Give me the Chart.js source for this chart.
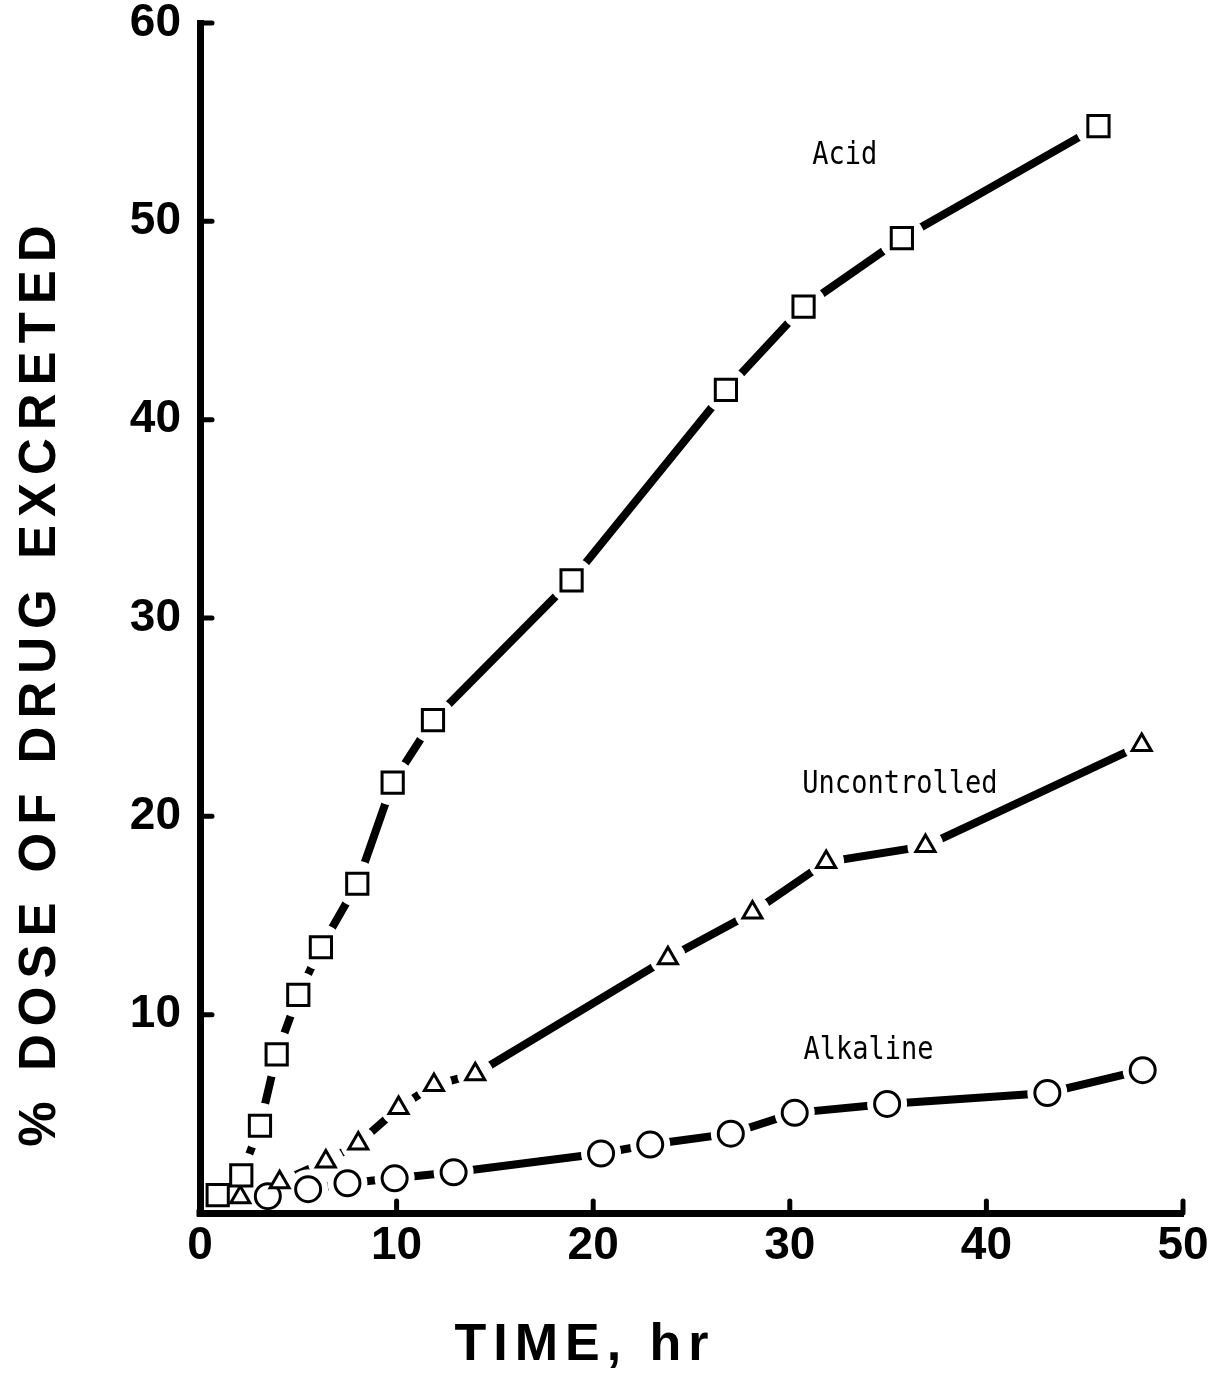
<!DOCTYPE html>
<html>
<head>
<meta charset="utf-8">
<title>% Dose of drug excreted vs time</title>
<script src="https://cdn.jsdelivr.net/npm/chart.js@4.4.1/dist/chart.umd.min.js"></script>
<style>
  html, body { margin: 0; padding: 0; background: #fff; }
  #chart { display: block; }
</style>
</head>
<body>
<canvas id="chart" width="1222" height="1373"></canvas>
<script>
// --- datos (tiempo en hr, % de dosis) ---
const acidTime = [0.9, 2.1, 3.05, 3.9, 5.0, 6.15, 8.0, 9.8, 11.85, 18.9, 26.75, 30.7, 35.7, 45.7];
const acidDose = [0.9, 1.9, 4.4, 8.0, 11.0, 13.4, 16.6, 21.7, 24.85, 31.9, 41.5, 45.7, 49.15, 54.8];

const uncTime = [2.05, 4.05, 6.4, 8.05, 10.1, 11.9, 14.0, 23.8, 28.1, 31.85, 36.9, 47.9];
const uncDose = [0.8, 1.55, 2.6, 3.5, 5.3, 6.45, 7.0, 12.85, 15.15, 17.7, 18.5, 23.6];

const alkTime = [3.45, 5.5, 7.5, 9.9, 12.9, 20.4, 22.9, 27.0, 30.25, 34.95, 43.1, 47.95];
const alkDose = [0.85, 1.2, 1.5, 1.75, 2.05, 3.0, 3.45, 4.0, 5.05, 5.5, 6.05, 7.2];

// etiquetas de las curvas (posición en unidades de datos)
const labelText = ['Acid', 'Uncontrolled', 'Alkaline'];
const labelX = [32.8, 35.6, 34.0];
const labelY = [53.3, 21.6, 8.2];

const xTitle = 'TIME, hr';
const yTitle = '% DOSE OF DRUG EXCRETED';

const xMin = 0, xMax = 50, xStep = 10;
const yMin = 0, yMax = 60, yStep = 10;

const pts = (xs, ys) => xs.map((x, i) => ({ x, y: ys[i] }));

// cada serie: línea gruesa, "halo" blanco (hueco junto al marcador) y marcador hueco
function serie(xs, ys, style, radius, halo) {
    const data = pts(xs, ys);
    return [
        { data, borderColor: '#000', borderWidth: 8, borderCapStyle: 'round', pointRadius: 0, tension: 0, order: 30 },
        { data, showLine: false, pointStyle: 'circle', pointRadius: halo, pointBorderWidth: 0,
          pointBackgroundColor: '#fff', pointBorderColor: '#fff', clip: false, order: 20 },
        { data, showLine: false, pointStyle: style, pointRadius: radius, pointBorderWidth: 3,
          pointBackgroundColor: '#fff', pointBorderColor: '#000', clip: false, order: 10 }
    ];
}

const datasets = [
    ...serie(acidTime, acidDose, 'rect', 15, 23),
    ...serie(uncTime, uncDose, 'triangle', 11, 18),
    ...serie(alkTime, alkDose, 'circle', 12.5, 20)
];

// marcas de eje hacia adentro
const axisMarks = {
    id: 'axisMarks',
    afterDraw(chart) {
        const { ctx, chartArea: a, scales: { x, y } } = chart;
        ctx.save();
        ctx.strokeStyle = '#000';
        ctx.lineWidth = 5;
        ctx.lineCap = 'round';
        y.ticks.forEach(t => {
            if (t.value === yMin) return;
            const py = y.getPixelForValue(t.value);
            ctx.beginPath(); ctx.moveTo(a.left, py); ctx.lineTo(a.left + 12, py); ctx.stroke();
        });
        x.ticks.forEach(t => {
            if (t.value === xMin) return;
            const px = x.getPixelForValue(t.value);
            ctx.beginPath(); ctx.moveTo(px, a.bottom); ctx.lineTo(px, a.bottom - 12); ctx.stroke();
        });
        ctx.fillStyle = '#000';
        ctx.fillRect(a.left - 3.5, a.bottom - 3.5, 7, 7);
        ctx.restore();
    }
};

// nombres de las curvas
const seriesLabels = {
    id: 'seriesLabels',
    afterDatasetsDraw(chart) {
        const { ctx, scales: { x, y } } = chart;
        ctx.save();
        ctx.fillStyle = '#000';
        ctx.font = '27px "DejaVu Sans Mono", monospace';
        ctx.textAlign = 'center';
        ctx.textBaseline = 'middle';
        labelText.forEach((t, i) => {
            ctx.save();
            ctx.translate(x.getPixelForValue(labelX[i]), y.getPixelForValue(labelY[i]));
            ctx.scale(1, 1.18); // la fuente original es más alta y estrecha
            ctx.fillText(t, 0, 0);
            ctx.restore();
        });
        ctx.restore();
    }
};

// títulos de los ejes (con espaciado de letras como el original)
const axisTitles = {
    id: 'axisTitles',
    afterDraw(chart) {
        const { ctx } = chart;
        ctx.save();
        ctx.fillStyle = '#000';
        ctx.textAlign = 'center';
        ctx.textBaseline = 'middle';
        ctx.font = 'bold 52px "Liberation Sans", Arial, sans-serif';
        ctx.letterSpacing = '7px';
        ctx.fillText(xTitle, 585, 1346);
        ctx.font = 'bold 51px "Liberation Sans", Arial, sans-serif';
        ctx.letterSpacing = '8px';
        ctx.translate(41, 682);
        ctx.rotate(-Math.PI / 2);
        ctx.fillText(yTitle, 0, 0);
        ctx.restore();
    }
};

const tickFont = { family: '"Liberation Sans", Arial, sans-serif', size: 46, weight: 'bold', lineHeight: 1 };

new Chart(document.getElementById('chart'), {
    type: 'line',
    data: { datasets },
    options: {
        responsive: false,
        animation: false,
        layout: { padding: { top: 14, right: 39, bottom: 0, left: 0 } },
        plugins: { legend: { display: false }, tooltip: { enabled: false } },
        scales: {
            x: {
                type: 'linear', min: xMin, max: xMax,
                ticks: { stepSize: xStep, color: '#000', font: tickFont, padding: 10 },
                grid: { display: false, drawTicks: false },
                border: { display: true, color: '#000', width: 7, z: 1 },
                afterFit(s) { s.height = 160; s.paddingLeft = 0; s.paddingRight = 0; }
            },
            y: {
                type: 'linear', min: yMin, max: yMax,
                ticks: { stepSize: yStep, color: '#000', font: tickFont, padding: 19,
                         callback: v => v === yMin ? '' : v },
                grid: { display: false, drawTicks: false },
                border: { display: true, color: '#000', width: 7, z: 1 },
                afterFit(s) { s.width = 200; s.paddingTop = 0; s.paddingBottom = 0; }
            }
        }
    },
    plugins: [axisMarks, seriesLabels, axisTitles]
});
</script>
</body>
</html>
